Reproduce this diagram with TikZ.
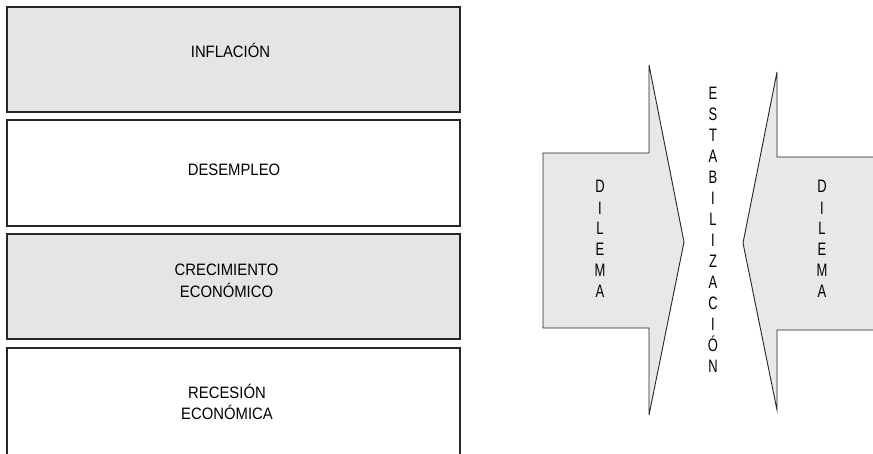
\documentclass[tikz,border=0pt]{standalone}
\usepackage{fontspec}
\setmainfont{Liberation Sans}
\newfontfamily\boxfont[FakeStretch=0.9]{Liberation Sans}
\newfontfamily\stackfont[FakeStretch=0.72]{Liberation Sans}
\begin{document}
\begin{tikzpicture}[x=1pt,y=1pt,
  panel/.style={draw=black!85, line width=1.3pt, minimum width=453pt, inner sep=0pt},
  shaded/.style={panel, fill=black!10},
  plain/.style={panel, fill=white},
  caption/.style={font=\boxfont\fontsize{16.5}{21}\selectfont, align=center, anchor=base, inner sep=0pt},
  stack/.style={font=\stackfont\fontsize{18}{21}\selectfont, align=center, anchor=base, inner sep=0pt},
  bigarrow/.style={draw=black!85, line width=0.9pt, fill=black!9, line join=miter}]
\clip (0,0) rectangle (873,453);
\fill[white] (0,0) rectangle (873,453);

% stacked category panels
\node[shaded, minimum height=105pt] (b1) at (233.5,393.5) {};
\node[plain,  minimum height=106pt] (b2) at (233.5,280) {};
\node[shaded, minimum height=105pt] (b3) at (233.5,166.5) {};
\node[plain,  minimum height=107pt] (b4) at (233.5,51.5) {};

% captions (base anchor sits on the last line)
\node[caption] (t1) at (230.5,395) {INFLACIÓN};
\node[caption] (t2) at (234,277) {DESEMPLEO};
\node[caption] (t3) at (226.5,156) {CRECIMIENTO\\ECONÓMICO};
\node[caption] (t4) at (227,34) {RECESIÓN\\ECONÓMICA};

% two opposing arrows
\draw[bigarrow] (543,300) -- (649,300) -- (649,388) -- (684,211)
  -- (649,38) -- (649,125) -- (543,125) -- cycle;
\draw[bigarrow] (885,296) -- (777,296) -- (777,381) -- (743,210)
  -- (777,43) -- (777,123) -- (885,123);
\fill[black!9] (778,124) rectangle (885,295);

% vertical lettering (base anchor sits on the last letter)
\node[stack] (dl) at (600,155) {D\\I\\L\\E\\M\\A};
\node[stack] (dr) at (822,155) {D\\I\\L\\E\\M\\A};
\node[stack] (es) at (713,81) {E\\S\\T\\A\\B\\I\\L\\I\\Z\\A\\C\\I\\Ó\\N};
\end{tikzpicture}
\end{document}
